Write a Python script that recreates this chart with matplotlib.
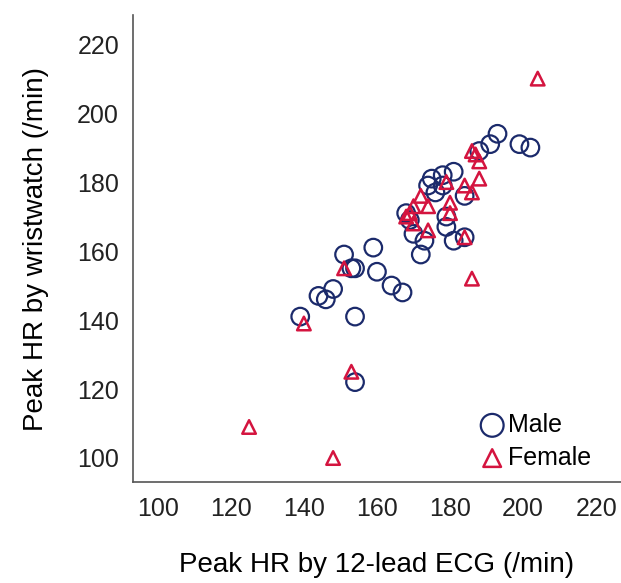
import matplotlib.pyplot as plt

plt.rcParams['font.family'] = ['Liberation Sans', 'DejaVu Sans']

# Peak HR (/min): 12-lead ECG (x) vs wristwatch (y)
male_ecg = [139, 144, 146, 148, 151, 153, 154, 154, 154, 159, 160, 164, 167,
            168, 169, 170, 172, 173, 174, 175, 176, 178, 181, 179, 179, 181,
            184, 184, 178, 188, 191, 193, 199, 202]
male_watch = [141, 147, 146, 149, 159, 155, 155, 141, 122, 161, 154, 150, 148,
              171, 169, 165, 159, 163, 179, 181, 177, 182, 183, 170, 167, 163,
              176, 164, 179, 189, 191, 194, 191, 190]

female_ecg = [125, 148, 140, 153, 151, 168, 169, 170, 172, 174, 174, 179, 184,
              180, 180, 184, 186, 188, 186, 187, 188, 186, 204, 170]
female_watch = [109, 100, 139, 125, 155, 170, 171, 173, 176, 173, 166, 180, 179,
                174, 171, 164, 177, 181, 189, 188, 186, 152, 210, 168]

x_ticks = [100, 120, 140, 160, 180, 200, 220]
y_ticks = [100, 120, 140, 160, 180, 200, 220]

navy = '#1b2a6b'
red = '#d4143f'

fig = plt.figure(figsize=(6.21, 5.83), dpi=100)
ax = fig.add_axes([0.214, 0.173, 0.786, 0.801])

ax.scatter(male_ecg, male_watch, s=160, marker='o', facecolors='none',
           edgecolors=navy, linewidths=1.6, label='Male')
ax.scatter(female_ecg, female_watch, s=95, marker='^', facecolors='none',
           edgecolors=red, linewidths=1.8, label='Female')

ax.set_xlim(93.2, 226.8)
ax.set_ylim(93, 228.4)
ax.set_xticks(x_ticks)
ax.set_yticks(y_ticks)
ax.tick_params(length=0, labelsize=18, colors='#222222')
ax.tick_params(axis='x', pad=11)
ax.tick_params(axis='y', pad=10)

for side in ['top', 'right']:
    ax.spines[side].set_visible(False)
for side in ['left', 'bottom']:
    ax.spines[side].set_color('#555555')
    ax.spines[side].set_linewidth(1.2)

ax.set_xlabel('Peak HR by 12-lead ECG (/min)', fontsize=20, labelpad=22)
ax.set_ylabel('Peak HR by wristwatch (/min)', fontsize=20, labelpad=20)

ax.legend(loc='lower left', bbox_to_anchor=(0.69, 0.0), frameon=False,
          fontsize=18, markerscale=1.3, handlelength=0.8, handletextpad=0.25,
          labelspacing=0.35, borderpad=0)

fig.savefig('out.png', dpi=100)
